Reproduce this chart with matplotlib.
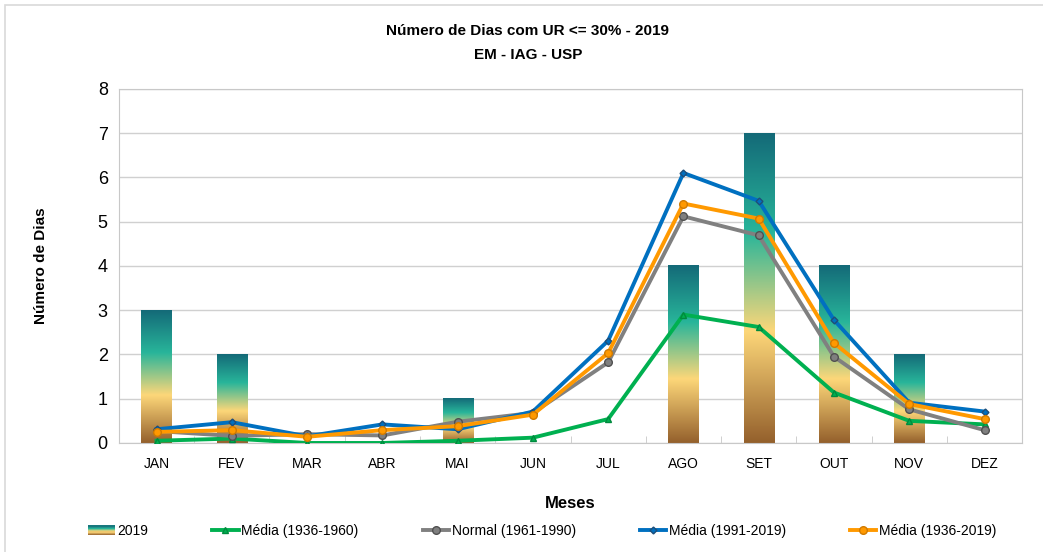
import matplotlib
matplotlib.use('Agg')
import matplotlib.pyplot as plt
import numpy as np
from matplotlib.colors import LinearSegmentedColormap
from matplotlib.patches import Rectangle
from matplotlib.legend_handler import HandlerBase

plt.rcParams['font.family'] = ['Liberation Sans', 'DejaVu Sans']

meses = ['JAN', 'FEV', 'MAR', 'ABR', 'MAI', 'JUN', 'JUL', 'AGO', 'SET', 'OUT', 'NOV', 'DEZ']
dias_2019 = [3, 2, 0, 0, 1, 0, 0, 4, 7, 4, 2, 0]
media_1936_1960 = [0.05, 0.10, 0.00, 0.00, 0.05, 0.12, 0.54, 2.90, 2.62, 1.14, 0.50, 0.42]
normal_1961_1990 = [0.27, 0.16, 0.20, 0.17, 0.48, 0.68, 1.82, 5.12, 4.69, 1.95, 0.76, 0.29]
media_1991_2019 = [0.31, 0.47, 0.15, 0.42, 0.31, 0.71, 2.31, 6.10, 5.47, 2.78, 0.91, 0.71]
media_1936_2019 = [0.25, 0.29, 0.14, 0.29, 0.38, 0.64, 2.03, 5.41, 5.07, 2.26, 0.88, 0.54]

grad = LinearSegmentedColormap.from_list(
    'ur', [(0.0, '#94602c'), (0.36, '#fdd779'), (0.68, '#28b59a'), (1.0, '#146a78')])


class GradientHandler(HandlerBase):
    # legend patch drawn as stacked stripes of the bar gradient
    def create_artists(self, legend, orig_handle, xdescent, ydescent,
                       width, height, fontsize, trans):
        n = 8
        parts = []
        for i in range(n):
            r = Rectangle((-xdescent, -ydescent + height * i / n), width, height / n,
                          facecolor=grad((i + 0.5) / n), edgecolor='none', transform=trans)
            parts.append(r)
        return parts


fig = plt.figure(figsize=(10.43, 5.52), dpi=100)

# chart frame (only top/left edges visible in the crop)
fig.patches.append(Rectangle((5 / 1043, -0.1), 1.2, 1.1 - 5 / 552 + 0.0, transform=fig.transFigure,
                             facecolor='none', edgecolor='#d9d9d9', lw=1.2))

ax = fig.add_axes([0.114, 0.1975, 0.866, 0.6415])

x = np.arange(len(meses))
w = 0.4
ax.set_xlim(-0.5, len(meses) - 0.5)
ax.set_ylim(0, 8)

gimg = np.linspace(0, 1, 256).reshape(-1, 1)
for xi, v in zip(x, dias_2019):
    if v > 0:
        ax.imshow(gimg, cmap=grad, origin='lower', aspect='auto',
                  extent=(xi - w / 2, xi + w / 2, 0, v), zorder=2)
bar_proxy = Rectangle((0, 0), 1, 1)

lw = 2.8
l1, = ax.plot(x, media_1936_1960, color='#00b050', lw=lw, marker='^', ms=4.5,
              mfc='#00b050', mec='#008a3e', zorder=3)
l2, = ax.plot(x, normal_1961_1990, color='#808080', lw=lw, marker='o', ms=5.5,
              mfc='#7f7f7f', mec='#505050', zorder=4)
l3, = ax.plot(x, media_1991_2019, color='#0070c0', lw=lw, marker='D', ms=3.5,
              mfc='#0070c0', mec='#1f4e79', zorder=5)
l4, = ax.plot(x, media_1936_2019, color='#ff9900', lw=lw, marker='o', ms=5.5,
              mfc='#ff9900', mec='#d07a00', zorder=6)

ax.set_yticks(range(0, 9))
ax.set_xticks(x)
ax.set_xticklabels(meses, fontsize=10)
ax.tick_params(axis='y', labelsize=13, length=0, pad=8)
ax.tick_params(axis='x', length=0, pad=10)
ax.set_xticks(np.arange(-0.5, len(meses), 1), minor=True)
ax.tick_params(axis='x', which='minor', direction='in', length=5, color='#c8c8c8')
ax.grid(axis='y', color='#d0d0d0', lw=1)
ax.set_axisbelow(True)
for s in ax.spines.values():
    s.set_color('#c8c8c8')

ax.set_ylabel('Número de Dias', fontsize=11, fontweight='bold', labelpad=36)
ax.set_xlabel('Meses', fontsize=12, fontweight='bold', labelpad=18)

fig.text(0.506, 0.943, 'Número de Dias com UR <= 30% - 2019', ha='center', va='center',
         fontsize=11, fontweight='bold')
fig.text(0.506, 0.901, 'EM - IAG - USP', ha='center', va='center',
         fontsize=11, fontweight='bold')

fig.legend([bar_proxy, l1, l2, l3, l4],
           ['2019', 'Média (1936-1960)', 'Normal (1961-1990)', 'Média (1991-2019)', 'Média (1936-2019)'],
           handler_map={bar_proxy: GradientHandler()},
           loc='center', bbox_to_anchor=(0.52, 0.038), ncol=5, frameon=False,
           fontsize=10, handlelength=1.9, handletextpad=0.2, columnspacing=4.6)

fig.savefig('out.png', dpi=100)
